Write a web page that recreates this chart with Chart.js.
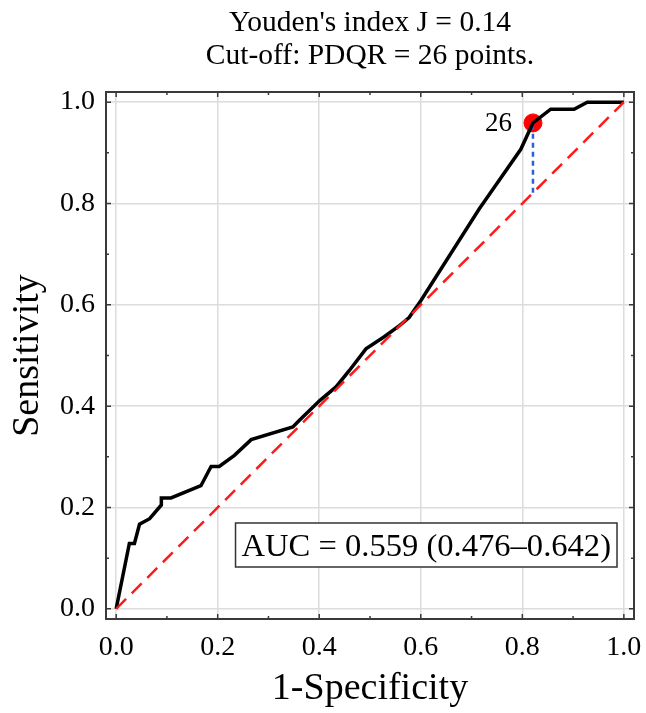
<!DOCTYPE html>
<html lang="en">
<head>
  <meta charset="UTF-8" />
  <title>ROC curve - PDQR</title>
  <script src="https://cdn.jsdelivr.net/npm/chart.js"></script>
  <style>
    html, body { margin: 0; padding: 0; background: #fff; }
    .box { width: 646px; height: 713px; position: relative; }
  </style>
</head>
<body>
  <div class="box">
    <canvas id="grafico"></canvas>
  </div>

  <script>
    // ROC curve values
    const fpr = [0, 0.026, 0.036, 0.046, 0.066, 0.089, 0.089, 0.108, 0.167, 0.187, 0.203, 0.233, 0.266, 0.348,
                 0.361, 0.401, 0.433, 0.459, 0.492, 0.528, 0.558, 0.577, 0.600, 0.715, 0.797, 0.821, 0.856, 0.902, 0.928, 1.0];
    const tpr = [0, 0.129, 0.129, 0.167, 0.178, 0.205, 0.219, 0.219, 0.243, 0.281, 0.281, 0.303, 0.334, 0.359,
                 0.372, 0.411, 0.438, 0.470, 0.513, 0.537, 0.559, 0.575, 0.608, 0.789, 0.907, 0.959, 0.986, 0.986, 1.0, 1.0];

    const diagX = [0, 1];
    const diagY = [0, 1];

    // cut-off point (PDQR = 26)
    const cutX = 0.821;
    const cutY = 0.959;
    const cutLabel = '26';

    const tickVals = [0, 0.1, 0.2, 0.3, 0.4, 0.5, 0.6, 0.7, 0.8, 0.9, 1.0];
    const titulo = ["Youden's index J = 0.14", 'Cut-off: PDQR = 26 points.'];
    const aucTexto = 'AUC = 0.559 (0.476\u20130.642)';

    const serif = '"Liberation Serif", "Times New Roman", serif';
    const ehMaior = v => Math.round(v * 10) % 2 === 0;

    const moldura = {
      id: 'moldura',
      beforeDatasetsDraw(chart) {
        const { ctx, chartArea: a, scales: { x, y } } = chart;
        ctx.save();
        ctx.strokeStyle = '#3a3a3a';
        ctx.lineWidth = 1.5;
        tickVals.forEach(v => {
          const len = ehMaior(v) ? 5 : 3;
          const px = x.getPixelForValue(v);
          const py = y.getPixelForValue(v);
          ctx.beginPath();
          ctx.moveTo(px, a.bottom); ctx.lineTo(px, a.bottom - len);
          ctx.moveTo(px, a.top); ctx.lineTo(px, a.top + len);
          ctx.moveTo(a.left, py); ctx.lineTo(a.left + len, py);
          ctx.moveTo(a.right, py); ctx.lineTo(a.right - len, py);
          ctx.stroke();
        });
        ctx.lineWidth = 2;
        ctx.strokeRect(a.left, a.top, a.right - a.left, a.bottom - a.top);
        ctx.restore();
      },
      afterDatasetsDraw(chart) {
        const { ctx, chartArea: a, scales: { x, y } } = chart;
        ctx.save();
        // label 26
        ctx.fillStyle = '#000';
        ctx.font = '27px ' + serif;
        ctx.textAlign = 'right';
        ctx.textBaseline = 'middle';
        ctx.fillText(cutLabel, x.getPixelForValue(cutX) - 21, y.getPixelForValue(cutY) + 1);

        // AUC box
        ctx.font = '32.6px ' + serif;
        const w = ctx.measureText(aucTexto).width + 12;
        const h = 44;
        const bx = a.right - 17 - w;
        const by = a.bottom - 52 - h;
        ctx.fillStyle = '#fff';
        ctx.fillRect(bx, by, w, h);
        ctx.strokeStyle = '#333';
        ctx.lineWidth = 1.5;
        ctx.strokeRect(bx, by, w, h);
        ctx.fillStyle = '#000';
        ctx.textAlign = 'center';
        ctx.textBaseline = 'alphabetic';
        ctx.fillText(aucTexto, bx + w / 2, by + h - 11);

        // title centred over the plot
        ctx.font = '29.5px ' + serif;
        const cx = (a.left + a.right) / 2;
        ctx.fillText(titulo[0], cx, 31);
        ctx.fillText(titulo[1], cx, 64);
        ctx.restore();
      }
    };

    const eixo = (titulo, lado) => ({
      type: 'linear',
      min: -0.02,
      max: 1.02,
      afterBuildTicks: s => { s.ticks = tickVals.map(v => ({ value: v })); },
      afterFit: s => {
        // fixed axis size, no extra padding for the end labels
        if (lado === 'x') s.height = 94; else s.width = 106;
        s.paddingLeft = s.paddingRight = s.paddingTop = s.paddingBottom = 0;
      },
      border: { display: false },
      grid: {
        drawTicks: false,
        lineWidth: 1.5,
        color: c => (c.tick && ehMaior(c.tick.value) ? '#dcdcdc' : 'rgba(0,0,0,0)')
      },
      ticks: {
        color: '#000',
        padding: lado === 'x' ? 12 : 11,
        font: { family: serif, size: 28 },
        callback: v => (ehMaior(v) ? v.toFixed(1) : '')
      },
      title: {
        display: true,
        text: titulo,
        color: '#000',
        font: { family: serif, size: 38 },
        padding: lado === 'x' ? { top: 0, bottom: 1 } : { top: 5, bottom: 0 }
      }
    });

    new Chart(document.getElementById('grafico'), {
      type: 'scatter',
      data: {
        datasets: [
          {
            label: 'Referência',
            data: diagX.map((v, i) => ({ x: v, y: diagY[i] })),
            showLine: true,
            borderColor: '#ff1a1a',
            borderWidth: 2.5,
            borderDash: [14, 8],
            pointRadius: 0
          },
          {
            label: 'ROC',
            data: fpr.map((v, i) => ({ x: v, y: tpr[i] })),
            showLine: true,
            borderColor: '#000',
            borderWidth: 3.5,
            pointRadius: 0,
            tension: 0
          },
          {
            label: 'Youden',
            data: [{ x: cutX, y: cutX }, { x: cutX, y: cutY }],
            showLine: true,
            borderColor: '#2a62d6',
            borderWidth: 2.5,
            borderDash: [5, 4],
            pointRadius: 0
          },
          {
            label: 'Cut-off',
            data: [{ x: cutX, y: cutY }],
            pointRadius: 9,
            pointBackgroundColor: '#ff0000',
            pointBorderColor: '#ff0000'
          }
        ]
      },
      options: {
        responsive: true,
        maintainAspectRatio: false,
        animation: false,
        layout: { padding: { top: 92, right: 12, left: 0, bottom: 0 } },
        plugins: {
          legend: { display: false },
          tooltip: { enabled: false }
        },
        scales: {
          x: eixo('1-Specificity', 'x'),
          y: eixo('Sensitivity', 'y')
        }
      },
      plugins: [moldura]
    });
  </script>
</body>
</html>
